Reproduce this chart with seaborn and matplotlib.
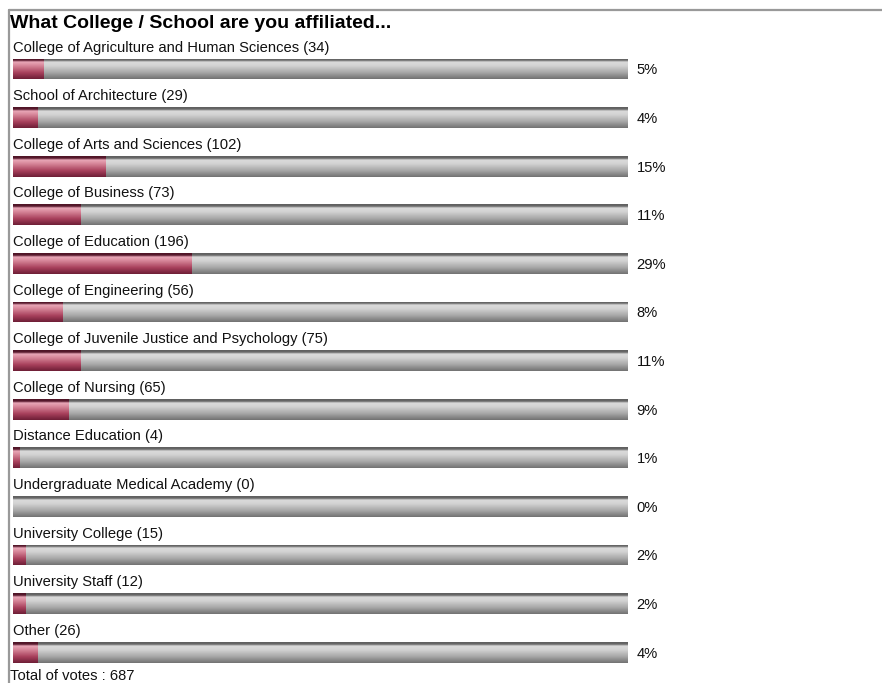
import numpy as np
import pandas as pd
import matplotlib
matplotlib.use("Agg")
import matplotlib.pyplot as plt
import seaborn as sns
from matplotlib.colors import LinearSegmentedColormap

# Donnees du sondage
categories = [
    "College of Agriculture and Human Sciences",
    "School of Architecture",
    "College of Arts and Sciences",
    "College of Business",
    "College of Education",
    "College of Engineering",
    "College of Juvenile Justice and Psychology",
    "College of Nursing",
    "Distance Education",
    "Undergraduate Medical Academy",
    "University College",
    "University Staff",
    "Other",
]
votes = [34, 29, 102, 73, 196, 56, 75, 65, 4, 0, 15, 12, 26]
percents = [5, 4, 15, 11, 29, 8, 11, 9, 1, 0, 2, 2, 4]
total_votes = 687
title = "What College / School are you affiliated..."

df = pd.DataFrame({"category": categories, "votes": votes, "percent": percents})
df["full"] = 100

sns.set_theme(style="white")
plt.rcParams["font.family"] = ["Liberation Sans", "DejaVu Sans"]
plt.rcParams["text.color"] = "#111111"

W, H = 882, 683
fig = plt.figure(figsize=(W / 100, H / 100), dpi=100)

# axe principal en pixels : barres de x=13 a x=628, rangees espacees de ~48.6 px
row_h = 48.6
top_c = 69.0
n = len(categories)
y_top = top_c - row_h / 2
y_bot = top_c + row_h * (n - 1) + row_h / 2
ax = fig.add_axes([13 / W, 1 - y_bot / H, 615 / W, (y_bot - y_top) / H])

bar_w = 21 / row_h
sns.barplot(data=df, x="full", y="category", orient="h", color="#aaaaaa",
            width=bar_w, ax=ax, linewidth=0)
n_bg = len(ax.patches)
sns.barplot(data=df, x="percent", y="category", orient="h", color="#b04060",
            width=bar_w, ax=ax, linewidth=0)

ax.set_xlim(0, 100)
ax.set_ylim(n - 0.5, -0.5)
ax.axis("off")

# degrades verticaux facon barre "bitmap"
gray_cmap = LinearSegmentedColormap.from_list(
    "g", [(0, "#5e5e5e"), (0.1, "#6a6a6a"), (0.18, "#dadada"), (0.35, "#d4d4d4"),
          (0.7, "#a6a6a6"), (1, "#727272")])
red_cmap = LinearSegmentedColormap.from_list(
    "r", [(0, "#4e1426"), (0.1, "#5a1a2e"), (0.18, "#eaa8b8"), (0.35, "#d8889b"),
          (0.7, "#a8405c"), (1, "#6e1e36")])
grad = np.linspace(0, 1, 64).reshape(-1, 1)

for k, p in enumerate(ax.patches):
    x0, y0 = p.get_x(), p.get_y()
    w, h = p.get_width(), p.get_height()
    if w <= 0:
        continue
    cmap = gray_cmap if k < n_bg else red_cmap
    im = ax.imshow(grad, cmap=cmap, aspect="auto", interpolation="bilinear",
                   extent=(x0, x0 + w, y0 + h, y0), zorder=p.get_zorder() + 0.1 + (k >= n_bg))
    im.set_clip_path(p)
    p.set_alpha(0)
ax.set_xlim(0, 100)
ax.set_ylim(n - 0.5, -0.5)

for i, row in df.iterrows():
    ax.text(0, i - 0.44, f"{row['category']} ({row['votes']})", fontsize=10.6,
            ha="left", va="center")
    ax.text(101.4, i + 0.03, f"{row['percent']}%", fontsize=10.6,
            ha="left", va="center")

# cadre, titre, total
fig.add_artist(plt.Line2D([8.5 / W, 1], [1 - 9.5 / H, 1 - 9.5 / H], color="#999999", lw=1.6))
fig.add_artist(plt.Line2D([8.5 / W, 8.5 / W], [0, 1 - 9.5 / H], color="#999999", lw=1.6))
fig.text(10 / W, 1 - 24 / H, title, fontsize=14, fontweight="bold", ha="left", va="center",
         color="black")
fig.text(10 / W, 1 - 676.5 / H, f"Total of votes : {total_votes}", fontsize=10.6,
         ha="left", va="center")

fig.savefig("out.png", dpi=100)
